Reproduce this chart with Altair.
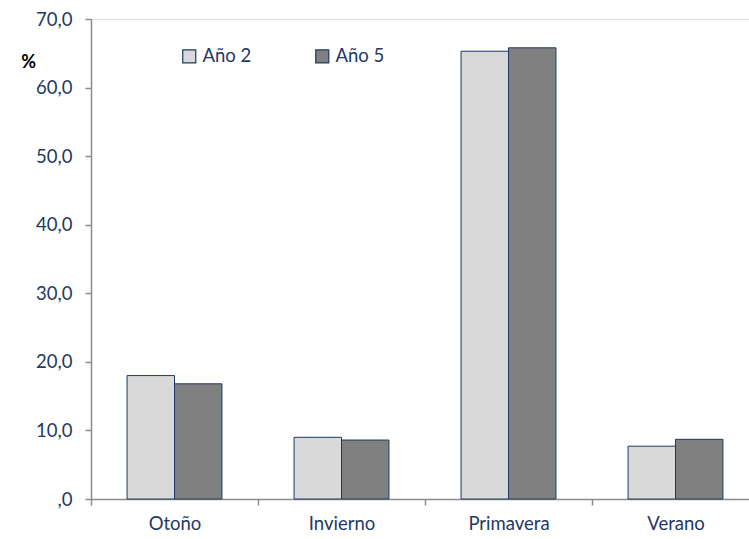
import altair as alt
import pandas as pd

# Seasonal share (%) for two survey years
seasons = ["Otoño", "Invierno", "Primavera", "Verano"]
series = ["Año 2", "Año 5"]
year2 = [18.0, 9.0, 65.3, 7.7]
year5 = [16.8, 8.6, 65.8, 8.7]

rows = []
for s, v in zip(seasons, year2):
    rows.append({"estacion": s, "serie": series[0], "valor": v})
for s, v in zip(seasons, year5):
    rows.append({"estacion": s, "serie": series[1], "valor": v})
df = pd.DataFrame(rows)

NAVY = "#1F3864"
AXIS_GREY = "#8C8C8C"
FONT = "Lato"
FS = 18.5

bars = alt.Chart(df).mark_bar(stroke=NAVY, strokeWidth=1).encode(
    x=alt.X(
        "estacion:N",
        sort=seasons,
        title=None,
        scale=alt.Scale(range=[0, 668], paddingInner=0, paddingOuter=0),
        axis=alt.Axis(
            tickBand="extent",
            labelAngle=0,
            labelFont=FONT,
            labelFontSize=FS,
            labelColor=NAVY,
            labelPadding=9,
            tickSize=6,
            tickColor=AXIS_GREY,
            domainColor=AXIS_GREY,
            domainWidth=1.5,
            tickWidth=1.5,
        ),
    ),
    xOffset=alt.XOffset(
        "serie:N",
        sort=series,
        scale=alt.Scale(paddingInner=0, paddingOuter=0.76),
    ),
    y=alt.Y(
        "valor:Q",
        scale=alt.Scale(domain=[0, 70], nice=False),
        title="%",
        axis=alt.Axis(
            values=[0, 10, 20, 30, 40, 50, 60, 70],
            grid=False,
            labelExpr="datum.value == 0 ? ',0' : replace(format(datum.value, '.1f'), '.', ',')",
            labelFont=FONT,
            labelFontSize=FS,
            labelColor=NAVY,
            labelPadding=13,
            tickSize=6,
            tickColor=AXIS_GREY,
            domainColor=AXIS_GREY,
            domainWidth=1.5,
            tickWidth=1.5,
            titleAngle=0,
            titleAlign="center",
            titleBaseline="middle",
            titleX=-63,
            titleY=43,
            titleFont=FONT,
            titleFontSize=18,
            titleFontWeight="bold",
            titleColor="#000000",
        ),
    ),
    color=alt.Color(
        "serie:N",
        sort=series,
        scale=alt.Scale(domain=series, range=["#D9D9D9", "#808080"]),
        legend=alt.Legend(
            title=None,
            orient="none",
            direction="horizontal",
            legendX=89,
            legendY=28,
            padding=0,
            symbolType="square",
            symbolSize=169,
            symbolStrokeColor=NAVY,
            symbolStrokeWidth=1.2,
            symbolOpacity=1,
            labelFont=FONT,
            labelFontSize=FS,
            labelColor=NAVY,
            labelOffset=4,
            columnPadding=61,
        ),
    ),
)

chart = bars.properties(
    width=658,
    height=480,
    autosize=alt.AutoSizeParams(type="none"),
    padding={"left": 91, "top": 19, "right": 0, "bottom": 40},
).configure_view(stroke=None).configure(background="white")

chart.save("out.html", embed_options={"renderer": "svg", "actions": False})
